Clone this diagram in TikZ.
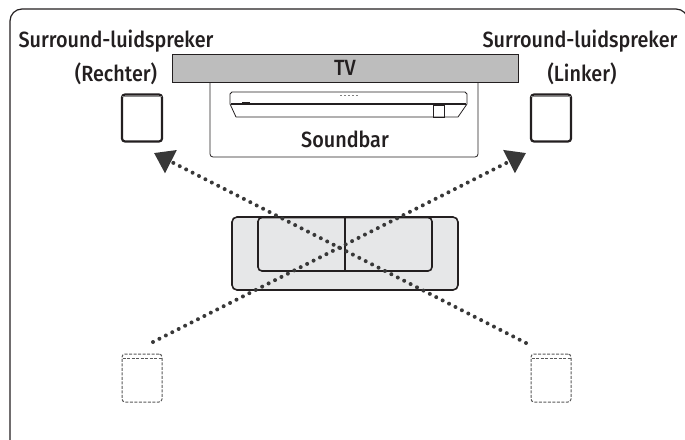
\documentclass[tikz,border=0pt]{standalone}
\usepackage{fontspec}
\setmainfont{Fira Sans}[UprightFont={* Medium}, FakeStretch=0.9]
\usetikzlibrary{arrows.meta}
\definecolor{ink}{HTML}{231F20}
\definecolor{tvgray}{HTML}{BDBDBD}
\definecolor{sofagray}{HTML}{E6E7E8}

\begin{document}
\begin{tikzpicture}[x=1pt,y=-1pt,
    caption/.style={font=\fontsize{22}{26}\selectfont, text=ink, inner sep=0pt, anchor=base},
    speaker/.style={draw=ink, line width=2.2pt, rounded corners=3pt, minimum width=40pt, minimum height=47pt, inner sep=0pt},
    ghost/.style={draw=black!65, line width=1pt, dash pattern=on 3pt off 1.5pt, rounded corners=3pt, minimum width=40pt, minimum height=48pt, inner sep=0pt},
    sightline/.style={draw=black!78, line width=4pt, line cap=round, dash pattern=on 0pt off 7.2pt, -{Triangle[length=19pt,width=25pt]}}]

    \useasboundingbox (0,0) rectangle (685,439);

    % Frame, open at the bottom and the right
    \draw[ink, line width=1.2pt, rounded corners=12pt] (10,460) -- (10,9) -- (688,9) -- (688,460);

    % Soundbar cabinet
    \draw[ink, line width=0.8pt, rounded corners=3pt] (210,70) -- (210,157) -- (478,157) -- (478,70);
    \node[caption] (sbtext) at (345,147) {Soundbar};

    % Soundbar itself
    \draw[ink, line width=0.8pt, line join=round] (236,117) -- (230,104) -- (230,94) -- (232,92) -- (465,92) -- (467,94) -- (467,104) -- (458,117) -- cycle;
    \draw[ink, line width=1.6pt] (231,104) -- (466,104);
    \draw[ink, line width=1.6pt] (242,102.5) -- (250,102.5);
    \draw[ink, line width=0.6pt] (433,105) rectangle (444,117);
    \draw[black!50, line width=0.8pt, dash pattern=on 2pt off 2pt] (340,95) -- (358,95);

    % TV
    \node[draw=ink, line width=0.8pt, fill=tvgray, minimum width=346pt, minimum height=28pt, inner sep=0pt,
          font=\fontsize{22}{26}\selectfont, text=ink] (tv) at (345,68) {TV};

    % Labels
    \node[caption] (surrR) at (116,47) {Surround-luidspreker};
    \node[caption] (sideR) at (116,81) {(Rechter)};
    \node[caption] (surrL) at (580,47) {Surround-luidspreker};
    \node[caption] (sideL) at (582,81) {(Linker)};

    % Surround speakers, where they go
    \node[speaker] (spkR) at (142,118) {};
    \node[speaker] (spkL) at (551,118) {};
    \foreach \s in {spkR,spkL}
        \draw[black!45, line width=0.8pt] ([xshift=1.5pt,yshift=-3pt]\s.north west) -- ([xshift=-1.5pt,yshift=-3pt]\s.north east);

    % Sofa
    \node[draw=ink, line width=1.6pt, fill=sofagray, rounded corners=5pt, minimum width=226pt, minimum height=73pt, inner sep=0pt] (sofa) at (345,253.5) {};
    \draw[ink, line width=1.6pt, rounded corners=4pt] (258,217.5) rectangle (432,271);
    \draw[ink, line width=1.6pt] (345,217.5) -- (345,271);

    % Surround speakers, where they were
    \node[ghost] (oldR) at (142,378) {};
    \node[ghost] (oldL) at (551,378) {};
    \foreach \s in {oldR,oldL}
        \draw[black!65, line width=1pt, dash pattern=on 3pt off 1.5pt] ([xshift=1pt,yshift=-5pt]\s.north west) -- ([xshift=-1pt,yshift=-5pt]\s.north east);

    % Moves
    \coordinate (aimR) at (154,153);
    \coordinate (aimL) at (526,153);
    \coordinate (fromR) at (526,343);
    \coordinate (fromL) at (153,342);
    \draw[sightline] (fromR) -- (aimR);
    \draw[sightline] (fromL) -- (aimL);

\end{tikzpicture}
\end{document}
